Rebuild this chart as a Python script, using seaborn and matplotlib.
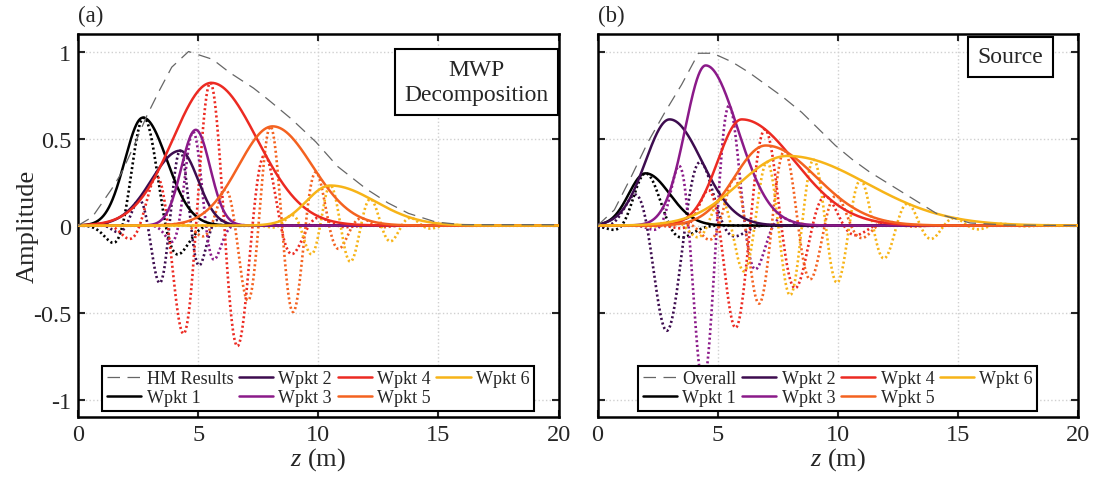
import numpy as np
import matplotlib
matplotlib.use("Agg")
import matplotlib.pyplot as plt
import seaborn as sns

# ------------------------------
# values
# ------------------------------
labels = ["Wpkt 1", "Wpkt 2", "Wpkt 3", "Wpkt 4", "Wpkt 5", "Wpkt 6"]
colors = ["#000000", "#3d0c4f", "#8b1a89", "#ec2a22", "#f46220", "#f7b418"]

# dashed reference curves (z in m, amplitude)
hm_z = [0, 0.6, 1.4, 1.8, 2.3, 2.86, 3.4, 3.9, 4.6, 5.6, 6.3, 7.3, 7.9, 8.9,
        9.9, 10.8, 12.0, 12.9, 13.75, 14.9, 16.0, 20.0]
hm_amp = [0, 0.05, 0.21, 0.30, 0.45, 0.63, 0.78, 0.91, 1.00, 0.955, 0.88, 0.79,
          0.725, 0.61, 0.48, 0.34, 0.21, 0.13, 0.07, 0.02, 0.005, 0.005]
ov_z = [0, 0.7, 1.4, 2.1, 2.8, 3.5, 4.2, 4.8, 5.6, 6.3, 7.0, 7.7, 8.5, 9.2,
        9.9, 10.6, 11.3, 12.7, 14.1, 15.5, 17.0, 20.0]
ov_amp = [0, 0.09, 0.28, 0.48, 0.65, 0.81, 0.99, 0.99, 0.94, 0.88, 0.81, 0.74,
          0.65, 0.555, 0.46, 0.38, 0.31, 0.19, 0.07, 0.015, 0.003, 0.0]

# wave packet parameters, panel (a) MWP decomposition
a_amp = [0.62, 0.43, 0.55, 0.82, 0.57, 0.23]
a_center = [2.7, 4.25, 4.9, 5.55, 8.1, 10.5]
a_sig_left = [0.75, 1.2, 0.6, 1.6, 1.41, 1.0]
a_sig_right = [1.0, 0.75, 0.6, 1.9, 1.64, 1.85]
a_wavelength = [3.6, 1.8, 2.3, 2.35, 1.96, 1.7]
a_crest = [2.75, 4.25, 4.75, 5.5, 8.0, 10.5]

# wave packet parameters, panel (b) source
b_amp = [0.30, 0.61, 0.92, 0.61, 0.46, 0.40]
b_center = [2.0, 3.0, 4.5, 6.0, 7.0, 7.9]
b_sig_left = [0.7, 1.0, 0.85, 1.0, 1.3, 2.0]
b_sig_right = [1.0, 1.34, 1.33, 2.2, 2.1, 3.3]
b_wavelength = [4.0, 3.2, 2.35, 2.6, 2.2, 1.97]
b_crest = [2.0, 4.45, 5.55, 7.0, 7.8, 9.0]

z = np.linspace(0, 20, 1601)


def envelope(amp, c, sl, sr):
    s = np.where(z < c, sl, sr)
    return amp * np.exp(-0.5 * ((z - c) / s) ** 2)


sns.set_style("ticks")
plt.rcParams["font.family"] = ["Liberation Serif", "DejaVu Serif"]
plt.rcParams["mathtext.fontset"] = "custom"
plt.rcParams["mathtext.it"] = "Liberation Serif:italic"
plt.rcParams["mathtext.rm"] = "Liberation Serif"

fig, axes = plt.subplots(1, 2, figsize=(10.99, 4.81), dpi=100, sharey=True)
fig.subplots_adjust(left=0.071, right=0.981, bottom=0.131, top=0.927, wspace=0.081)

panels = [
    (axes[0], "(a)", "MWP\nDecomposition", "HM Results", hm_z, hm_amp,
     a_amp, a_center, a_sig_left, a_sig_right, a_wavelength, a_crest, (0.829, 0.875)),
    (axes[1], "(b)", "Source", "Overall", ov_z, ov_amp,
     b_amp, b_center, b_sig_left, b_sig_right, b_wavelength, b_crest, (0.859, 0.941)),
]

for (ax, tag, boxtext, reflabel, rz, ramp, amp, cen, sl, sr, lam, crest, boxpos) in panels:
    ax.grid(True, color="#d0d0d0", linestyle=":", linewidth=1.0)
    ax.set_axisbelow(True)

    sns.lineplot(x=rz, y=ramp, ax=ax, color="#666666", linewidth=0.9,
                 linestyle=(0, (10, 6)), label=reflabel, zorder=5)

    for i in range(6):
        env = envelope(amp[i], cen[i], sl[i], sr[i])
        carrier = env * np.cos(2 * np.pi * (z - crest[i]) / lam[i])
        sns.lineplot(x=z, y=carrier, ax=ax, color=colors[i], linewidth=1.9,
                     linestyle=(0, (0.8, 1.0)), zorder=3)
        sns.lineplot(x=z, y=env, ax=ax, color=colors[i], linewidth=1.8,
                     label=labels[i], zorder=4)

    ax.set_xlim(0, 20)
    ax.set_ylim(-1.1, 1.1)
    ax.set_xticks([0, 5, 10, 15, 20])
    ax.set_yticks([-1, -0.5, 0, 0.5, 1])
    ax.set_yticklabels(["-1", "-0.5", "0", "0.5", "1"])
    ax.tick_params(direction="in", length=5, width=1.5, top=True, right=True,
                   labelsize=17.5, pad=5)
    for sp in ax.spines.values():
        sp.set_linewidth(1.8)
        sp.set_color("black")
    ax.set_xlabel("$z$ (m)", fontsize=19, labelpad=0)

    ax.text(0.0, 1.02, tag, transform=ax.transAxes, ha="left", va="bottom", fontsize=16.5)
    ax.text(boxpos[0], boxpos[1], boxtext, transform=ax.transAxes, ha="center",
            va="center", fontsize=17, linespacing=1.3,
            bbox=dict(boxstyle="square,pad=0.4", facecolor="white",
                      edgecolor="black", linewidth=1.5), zorder=10)

    leg = ax.legend(loc="lower center", ncol=4, fontsize=13, frameon=True,
                    fancybox=False, edgecolor="black", framealpha=1,
                    handlelength=1.9, handletextpad=0.3, columnspacing=0.3,
                    labelspacing=0.1, borderpad=0.25, borderaxespad=0.35)
    leg.get_frame().set_linewidth(1.5)
    leg.set_zorder(10)

axes[0].set_ylabel("Amplitude", fontsize=19, labelpad=-4)
axes[1].set_ylabel("")
axes[1].tick_params(labelleft=False)

fig.savefig("out.png", dpi=100)
